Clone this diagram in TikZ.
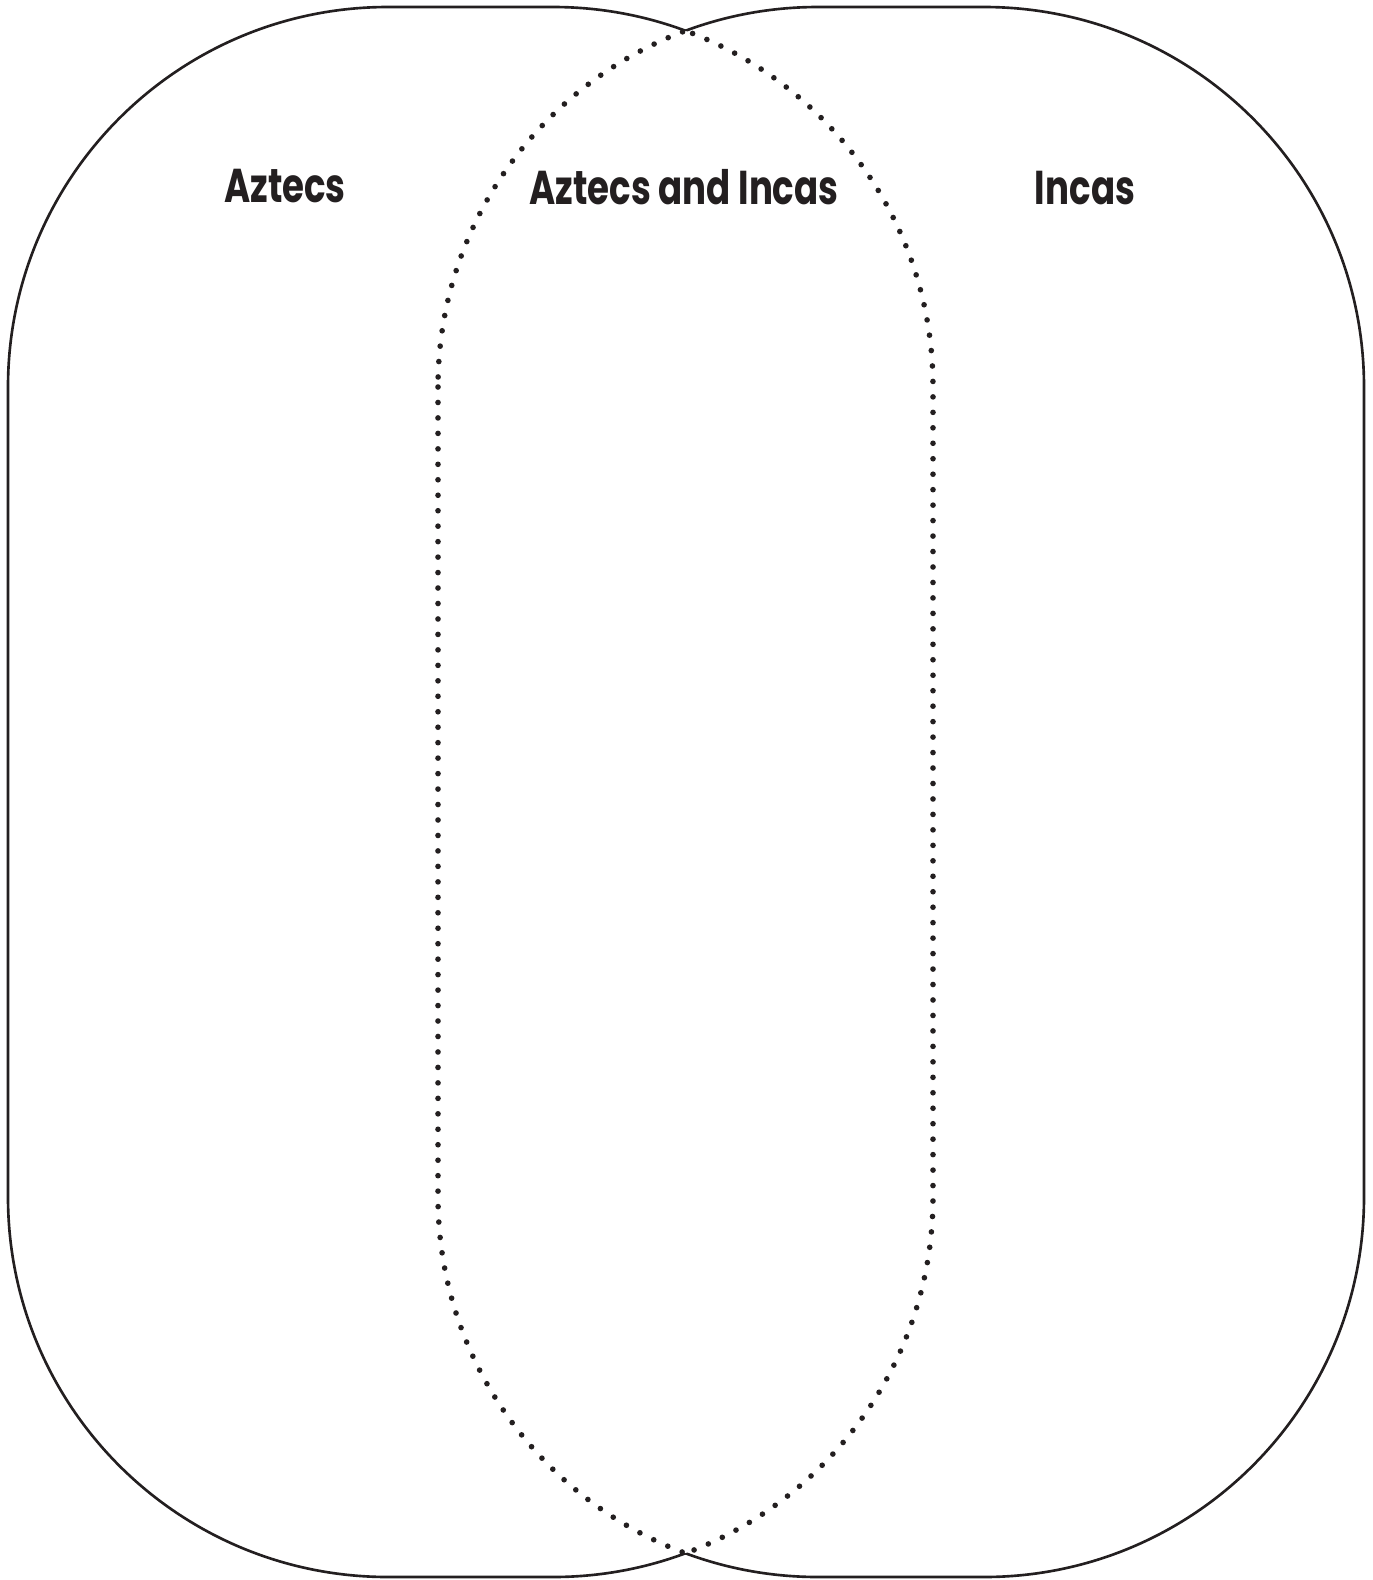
\documentclass[tikz,border=0pt]{standalone}
\usepackage{fontspec}
\newfontfamily\headfont{Poppins}[FakeStretch=0.75]
\usetikzlibrary{positioning}
\definecolor{inkBlack}{HTML}{231F20}

\def\aztecbox{(8,7) rectangle (933,1577)}
\def\incabox{(438,7) rectangle (1364,1577)}
\def\farbox{(-2000,-2000) rectangle (4000,4000)}

\begin{document}
\begin{tikzpicture}[x=0.1mm, y=-0.1mm,
    outline/.style={draw=inkBlack, line width=0.75pt},
    dotline/.style={draw=inkBlack, line width=1.6pt, dash pattern=on 0pt off 4.4pt, line cap=round},
    heading/.style={font=\headfont\bfseries\fontsize{13.5}{16}\selectfont, text=inkBlack, anchor=base, inner sep=0pt}]
  \useasboundingbox (0,0) rectangle (1373,1580);
  \begin{scope}[rounded corners=3.8cm]
    % outer outline
    \begin{scope}[even odd rule]
      \clip \farbox \incabox;
      \draw[outline] \aztecbox;
    \end{scope}
    \begin{scope}[even odd rule]
      \clip \farbox \aztecbox;
      \draw[outline] \incabox;
    \end{scope}
    % overlap, dotted
    \begin{scope}
      \clip \incabox;
      \draw[dotline] \aztecbox;
    \end{scope}
    \begin{scope}
      \clip \aztecbox;
      \draw[dotline] \incabox;
    \end{scope}
  \end{scope}
  % headings
  \node[heading] (aztecs) at (285,202) {Aztecs};
  \node[heading] (both) at (684,204) {Aztecs and Incas};
  \node[heading] (incas) at (1085,204) {Incas};
\end{tikzpicture}
\end{document}
